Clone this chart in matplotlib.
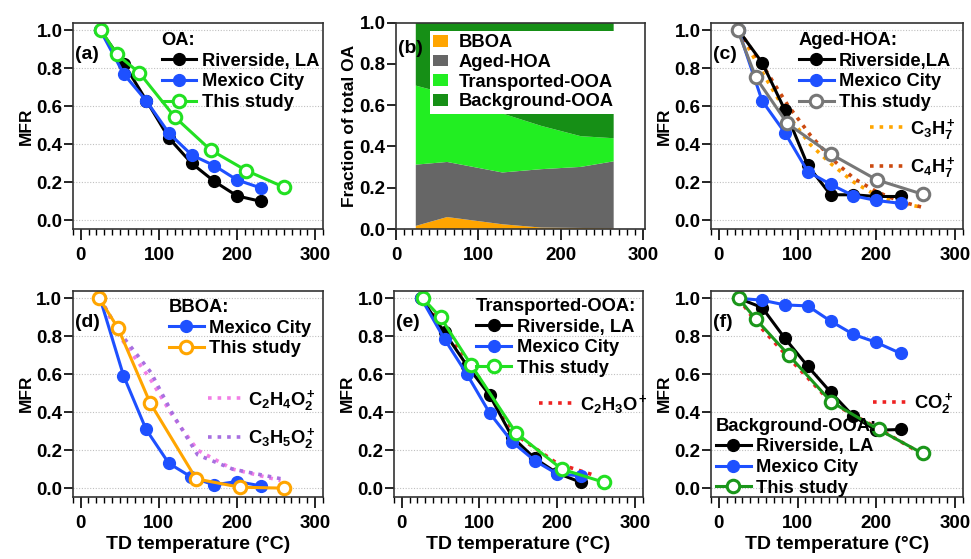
import matplotlib
matplotlib.use("Agg")
import matplotlib.pyplot as plt
from matplotlib.ticker import MultipleLocator
from matplotlib.legend import Legend

plt.rcParams['font.family'] = ['Liberation Sans', 'DejaVu Sans']
plt.rcParams['font.weight'] = 'bold'
plt.rcParams['mathtext.fontset'] = 'custom'
plt.rcParams['mathtext.bf'] = 'Liberation Sans:bold'
plt.rcParams['mathtext.rm'] = 'Liberation Sans:bold'
plt.rcParams['mathtext.it'] = 'Liberation Sans:bold'
plt.rcParams['mathtext.default'] = 'bf'

# ---- data ----
# temperatures of the literature datasets (Riverside / Mexico City)
T_lit = [25, 55, 84, 113, 142, 171, 200, 231]

# (a) OA
oa_T_this = [26, 46, 75, 120, 166, 212, 260]
oa_riv = [1.0, 0.825, 0.63, 0.432, 0.30, 0.205, 0.129, 0.10]
oa_mex = [1.0, 0.77, 0.628, 0.458, 0.344, 0.288, 0.213, 0.17]
oa_this = [1.0, 0.874, 0.776, 0.545, 0.371, 0.262, 0.175]

# (b) fraction of total OA
frac_T = [24, 62, 129, 176, 224, 264]
frac_bboa = [0.015, 0.058, 0.023, 0.007, 0.005, 0.003]
frac_aged = [0.297, 0.267, 0.251, 0.283, 0.296, 0.325]
frac_trans = [0.383, 0.33, 0.286, 0.21, 0.149, 0.112]
frac_bkg = [0.305, 0.345, 0.44, 0.50, 0.55, 0.56]

# (c) Aged-HOA
hoa_T_this = [24, 47, 87, 142, 201, 259]
hoa_riv = [1.0, 0.83, 0.58, 0.29, 0.135, 0.135, 0.126, 0.126]
hoa_mex = [1.0, 0.629, 0.461, 0.257, 0.19, 0.13, 0.105, 0.09]
hoa_this = [1.0, 0.752, 0.51, 0.35, 0.213, 0.138]
ion_T_hoa = [25, 55, 87, 116, 142, 172, 201, 231, 258]
c3h7 = [1.0, 0.78, 0.56, 0.40, 0.30, 0.20, 0.13, 0.09, 0.07]
c4h7 = [1.0, 0.82, 0.61, 0.45, 0.33, 0.22, 0.15, 0.10, 0.07]

# (d) BBOA
bb_T_this = [24, 48, 89, 148, 204, 260]
bb_mex = [1.0, 0.593, 0.309, 0.131, 0.058, 0.017, 0.035, 0.012]
bb_this = [1.0, 0.843, 0.45, 0.049, 0.005, 0.0]
ion_T_bb = [25, 50, 90, 118, 150, 195, 256]
c2h4o2 = [1.0, 0.80, 0.57, 0.38, 0.20, 0.10, 0.04]
c3h5o2 = [1.0, 0.82, 0.61, 0.39, 0.175, 0.10, 0.05]

# (e) Transported-OOA
tr_T_this = [27, 50, 89, 147, 206, 260]
tr_riv = [1.0, 0.82, 0.645, 0.49, 0.27, 0.157, 0.079, 0.03]
tr_mex = [1.0, 0.785, 0.599, 0.396, 0.244, 0.145, 0.075, 0.065]
tr_this = [1.0, 0.899, 0.651, 0.291, 0.10, 0.031]
ion_T_tr = [25, 55, 89, 115, 147, 200, 250]
c2h3o = [1.0, 0.84, 0.65, 0.48, 0.28, 0.13, 0.065]

# (f) Background-OOA
bg_T_this = [25, 47, 89, 143, 203, 259]
bg_riv = [1.0, 0.951, 0.789, 0.642, 0.506, 0.379, 0.305, 0.309]
bg_mex = [1.0, 0.99, 0.965, 0.96, 0.88, 0.81, 0.768, 0.71]
bg_this = [1.0, 0.89, 0.70, 0.454, 0.309, 0.183]
ion_T_bg = [25, 48, 88, 143, 200, 250]
co2 = [1.0, 0.87, 0.69, 0.45, 0.32, 0.20]

BLUE = '#1e50ff'
LIME = '#22e022'
DKGREEN = '#1a961a'
GREY = '#777777'
ORANGE = '#ffa500'
FS_LEG = 13.2

fig = plt.figure(figsize=(9.71, 5.59), dpi=100)
W, H = 971, 559


def add_ax(l, r, t, b):
    return fig.add_axes([l / W, 1 - b / H, (r - l) / W, (b - t) / H])


def style(ax, ylabel, xlabel=None, grid=True, ylim=(-0.045, 1.04), xlim=(-10, 310)):
    ax.set_xlim(*xlim)
    ax.set_ylim(*ylim)
    ax.set_xticks([0, 100, 200, 300])
    ax.xaxis.set_minor_locator(MultipleLocator(10))
    ax.set_yticks([0, 0.2, 0.4, 0.6, 0.8, 1.0])
    ax.set_yticklabels(['0.0', '0.2', '0.4', '0.6', '0.8', '1.0'])
    ax.tick_params(axis='x', which='major', length=8, width=1.2, pad=5, labelsize=13.5)
    ax.tick_params(axis='x', which='minor', length=4, width=1.0)
    ax.tick_params(axis='y', which='major', length=6.5, width=1.2, pad=1, labelsize=13.5)
    for s in ax.spines.values():
        s.set_linewidth(1.2)
        s.set_color('#333333')
    if grid:
        ax.yaxis.grid(True, linestyle=(0, (1, 1.5)), color='#c0c0c0', linewidth=0.8)
        ax.set_axisbelow(True)
    ax.set_ylabel(ylabel, fontsize=12.5, fontweight='bold', labelpad=2)
    if xlabel:
        ax.set_xlabel(xlabel, fontsize=14, fontweight='bold', labelpad=3)


def filled(ax, x, y, c, label):
    ax.plot(x, y, '-o', color=c, lw=2.2, ms=8.5, mfc=c, mec=c, label=label)


def hollow(ax, x, y, c, label):
    ax.plot(x, y, '-o', color=c, lw=2.2, ms=9, mfc='white', mec=c, mew=2.2, label=label)


def main_legend(ax, handles, labels, title, loc, anchor):
    ax.legend(handles, labels, loc=loc, bbox_to_anchor=anchor, frameon=False,
              title=title, alignment='left', handlelength=1.9, handletextpad=0.3,
              labelspacing=0.2, borderaxespad=0, borderpad=0,
              prop=dict(weight='bold', size=FS_LEG),
              title_fontproperties=dict(weight='bold', size=FS_LEG))


def ion_legend(ax, lines, anchor, spacing=0.75):
    leg = Legend(ax, lines, [l.get_label() for l in lines], loc='center left',
                 bbox_to_anchor=anchor, frameon=False, handlelength=1.8,
                 handletextpad=0.4, labelspacing=spacing, borderaxespad=0,
                 borderpad=0, prop=dict(weight='bold', size=FS_LEG))
    ax.add_artist(leg)


def panel_label(ax, s, y=0.848):
    ax.text(0.008, y, s, transform=ax.transAxes, fontsize=14,
            fontweight='bold', va='center', ha='left')


# (a) OA
ax = add_ax(73, 323, 22.7, 229)
filled(ax, T_lit, oa_riv, 'black', 'Riverside, LA')
filled(ax, T_lit, oa_mex, BLUE, 'Mexico City')
hollow(ax, oa_T_this, oa_this, LIME, 'This study')
style(ax, 'MFR')
h, lab = ax.get_legend_handles_labels()
main_legend(ax, h, lab, 'OA:', 'upper right', (0.985, 0.955))
panel_label(ax, '(a)')

# (b) fraction of total OA
ax = add_ax(396, 645, 22.7, 229)
ax.stackplot(frac_T, frac_bboa, frac_aged, frac_trans, frac_bkg,
             colors=[ORANGE, '#666666', '#22ee22', '#168f16'],
             labels=['BBOA', 'Aged-HOA', 'Transported-OOA', 'Background-OOA'])
style(ax, 'Fraction of total OA', grid=False, ylim=(0, 1.0), xlim=(0, 302))
ax.legend(loc='upper left', bbox_to_anchor=(0.135, 0.962), frameon=True,
          fancybox=False, edgecolor='none', facecolor='white', framealpha=1,
          handlelength=0.8, handleheight=0.6, handletextpad=0.6,
          labelspacing=0.15, borderpad=0.2, borderaxespad=0,
          prop=dict(weight='bold', size=FS_LEG))
panel_label(ax, '(b)', 0.875)

# (c) Aged-HOA
ax = add_ax(711, 962.7, 22.7, 229)
l1, = ax.plot(ion_T_hoa, c3h7, ':', color=ORANGE, lw=2.6, label=r'$C_3H_7^+$')
l2, = ax.plot(ion_T_hoa, c4h7, ':', color='#cc4a10', lw=2.6, label=r'$C_4H_7^+$')
filled(ax, T_lit, hoa_riv, 'black', 'Riverside,LA')
filled(ax, T_lit, hoa_mex, BLUE, 'Mexico City')
hollow(ax, hoa_T_this, hoa_this, GREY, 'This study')
style(ax, 'MFR')
h, lab = ax.get_legend_handles_labels()
main_legend(ax, h[2:], lab[2:], 'Aged-HOA:', 'upper right', (0.955, 0.955))
ion_legend(ax, [l1, l2], (0.63, 0.39))
panel_label(ax, '(c)')

# (d) BBOA
ax = add_ax(72.7, 322.7, 290.7, 496.7)
l1, = ax.plot(ion_T_bb, c2h4o2, ':', color='#f27ee6', lw=2.6, label=r'$C_2H_4O_2^+$')
l2, = ax.plot(ion_T_bb, c3h5o2, ':', color='#a86fe0', lw=2.6, label=r'$C_3H_5O_2^+$')
filled(ax, T_lit, bb_mex, BLUE, 'Mexico City')
hollow(ax, bb_T_this, bb_this, ORANGE, 'This study')
style(ax, 'MFR', 'TD temperature (°C)')
h, lab = ax.get_legend_handles_labels()
main_legend(ax, h[2:], lab[2:], 'BBOA:', 'upper right', (0.955, 0.96))
ion_legend(ax, [l1, l2], (0.54, 0.375))
panel_label(ax, '(d)')

# (e) Transported-OOA
ax = add_ax(394, 642.7, 290.7, 496.7)
l1, = ax.plot(ion_T_tr, c2h3o, ':', color='#ee2222', lw=2.6, label=r'$C_2H_3O^+$')
filled(ax, T_lit, tr_riv, 'black', 'Riverside, LA')
filled(ax, T_lit, tr_mex, BLUE, 'Mexico City')
hollow(ax, tr_T_this, tr_this, LIME, 'This study')
style(ax, 'MFR', 'TD temperature (°C)')
h, lab = ax.get_legend_handles_labels()
main_legend(ax, h[1:], lab[1:], 'Transported-OOA:', 'upper right', (0.975, 0.965))
ion_legend(ax, [l1], (0.585, 0.45))
panel_label(ax, '(e)')

# (f) Background-OOA
ax = add_ax(711, 962.7, 290.7, 496.7)
l1, = ax.plot(ion_T_bg, co2, ':', color='#ee2222', lw=2.6, label=r'$CO_2^+$')
filled(ax, T_lit, bg_riv, 'black', 'Riverside, LA')
filled(ax, T_lit, bg_mex, BLUE, 'Mexico City')
hollow(ax, bg_T_this, bg_this, DKGREEN, 'This study')
style(ax, 'MFR', 'TD temperature (°C)')
h, lab = ax.get_legend_handles_labels()
main_legend(ax, h[1:], lab[1:], 'Background-OOA:', 'lower left', (0.02, 0.0))
ion_legend(ax, [l1], (0.645, 0.45))
panel_label(ax, '(f)')

fig.savefig('out.png', dpi=100)
